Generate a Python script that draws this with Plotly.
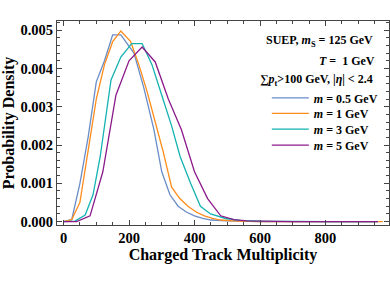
import plotly.graph_objects as go

# Data (x: charged track multiplicity, y: probability density)
x_m05 = [0, 25, 50, 75, 100, 125, 150, 175, 215, 245, 276, 300, 325, 350, 375, 400, 425, 450, 500, 550, 600, 700, 800, 900, 950]
y_m05 = [0, 0.00005, 0.0010, 0.0022, 0.00365, 0.0042, 0.00488, 0.00488, 0.0044, 0.0035, 0.0024, 0.0013, 0.0007, 0.0004, 0.00025, 0.00015, 0.00008, 0.00004, 0.00002, 0.00001, 0, 0, 0, 0, 0]

x_m1 = [0, 25, 50, 75, 100, 125, 150, 175, 205, 230, 255, 280, 305, 330, 355, 380, 405, 430, 455, 480, 530, 600, 700, 800, 900, 975]
y_m1 = [0, 0.00005, 0.0005, 0.0019, 0.0032, 0.0041, 0.0047, 0.00498, 0.0047, 0.0041, 0.0034, 0.0026, 0.0018, 0.0009, 0.0006, 0.0004, 0.00025, 0.00015, 0.00008, 0.00004, 0.00001, 0, 0, 0, 0, 0]

x_m3 = [0, 35, 66, 90, 112, 145, 175, 208, 240, 270, 300, 330, 356, 388, 418, 449, 495, 540, 600, 700, 800, 900, 960]
y_m3 = [0, 0.00001, 0.00017, 0.0007, 0.0017, 0.0037, 0.0043, 0.00465, 0.00465, 0.0041, 0.0033, 0.0025, 0.0017, 0.0010, 0.0004, 0.0002, 0.00008, 0.00003, 0.00001, 0, 0, 0, 0]

x_m5 = [0, 40, 81, 120, 160, 200, 240, 280, 320, 360, 400, 440, 480, 520, 560, 600, 700, 800, 900, 960]
y_m5 = [0, 0, 0.00015, 0.0013, 0.0033, 0.0042, 0.00456, 0.00417, 0.0032, 0.0024, 0.0013, 0.0006, 0.00015, 0.00005, 0.00002, 0.00001, 0, 0, 0, 0]

series = [
    ("<i>m</i> = 0.5 GeV", x_m05, y_m05, "#6A8DC8"),
    ("<i>m</i> = 1 GeV", x_m1, y_m1, "#FF8C1A"),
    ("<i>m</i> = 3 GeV", x_m3, y_m3, "#14B2B2"),
    ("<i>m</i> = 5 GeV", x_m5, y_m5, "#8B1A8B"),
]

x_ticks = [0, 200, 400, 600, 800]
y_ticks = [0.000, 0.001, 0.002, 0.003, 0.004, 0.005]

FONT = "Liberation Serif"

legend_ids = ["legend", "legend2", "legend3", "legend4"]
legend_rows_y = [0.623, 0.547, 0.470, 0.392]

fig = go.Figure()
for (name, xs, ys, c), lid in zip(series, legend_ids):
    fig.add_trace(go.Scatter(x=xs, y=ys, mode="lines", name=name, legend=lid,
                             showlegend=True, line=dict(color=c, width=1.3)))

axis_common = dict(
    showgrid=False, zeroline=False, showline=True, linecolor="#444", linewidth=1,
    mirror="allticks", ticks="inside", ticklen=5, tickcolor="#444",
    tickfont=dict(family=FONT, size=14.5, color="black", weight="bold"),
    automargin=False,
)

legend_style = dict(xanchor="left", yanchor="middle", x=0.632,
                    bgcolor="rgba(0,0,0,0)", borderwidth=0,
                    font=dict(family=FONT, size=12, weight="bold"),
                    itemwidth=37)

fig.update_layout(
    width=390, height=284,
    showlegend=True,
    margin=dict(l=57, r=1, t=21, b=59),
    paper_bgcolor="white", plot_bgcolor="white",
    font=dict(family=FONT, color="black", weight="bold"),
    xaxis=dict(range=[-20, 994], tickvals=x_ticks,
               minor=dict(dtick=50, ticks="inside", ticklen=3, tickcolor="#444"),
               title=dict(text="Charged Track Multiplicity", standoff=3,
                          font=dict(family=FONT, size=16, weight="bold")),
               **axis_common),
    yaxis=dict(range=[-0.00009, 0.00524], tickvals=y_ticks, tickformat=".3f",
               minor=dict(dtick=0.0002, ticks="inside", ticklen=3, tickcolor="#444"),
               title=dict(text="Probability Density", standoff=3,
                          font=dict(family=FONT, size=16, weight="bold")),
               **axis_common),
    annotations=[
        dict(text="SUEP, <i>m</i><sub>S</sub> = 125 GeV", x=0.958, y=0.903,
             xref="paper", yref="paper", xanchor="right", yanchor="middle",
             showarrow=False, font=dict(family=FONT, size=12, weight="bold")),
        dict(text="<i>T</i> =  1 GeV", x=0.965, y=0.805,
             xref="paper", yref="paper", xanchor="right", yanchor="middle",
             showarrow=False, font=dict(family=FONT, size=12, weight="bold")),
        dict(text="∑<i>p</i><sub>t</sub>&gt;100 GeV, |<i>η</i>| &lt; 2.4", x=0.958, y=0.71,
             xref="paper", yref="paper", xanchor="right", yanchor="middle",
             showarrow=False, font=dict(family=FONT, size=12, weight="bold")),
    ],
)
for lid, ly in zip(legend_ids, legend_rows_y):
    fig.update_layout({lid: dict(y=ly, **legend_style)})

fig.write_html("out.html", config={"displayModeBar": False},
               post_script="document.body.style.margin='0px';")
